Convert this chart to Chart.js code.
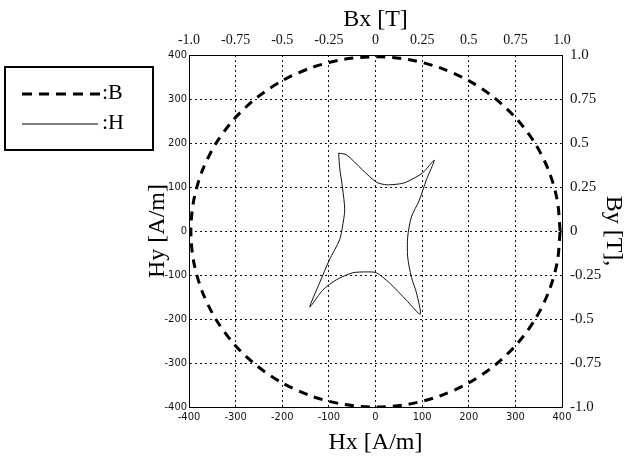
<!DOCTYPE html>
<html>
<head>
<meta charset="utf-8">
<script src="https://cdn.jsdelivr.net/npm/chart.js@4/dist/chart.umd.min.js"></script>
<style>
  html, body { margin: 0; padding: 0; background: #fff; }
  #wrap { width: 628px; height: 465px; position: relative; }
</style>
</head>
<body>
<div id="wrap"><canvas id="chart" width="628" height="465"></canvas></div>
<script>
// H locus (A/m), traced clockwise from the upper-left tip
const hx = [-79, -62, -28, 2, 24, 51, 66, 101, 126, 109, 94, 77, 69, 69, 77, 88, 96,
            66, 30, 2, -19, -49, -84, -113, -141, -120, -99, -77, -71, -66, -71, -77, -79];
const hy = [177, 173, 139, 111, 105, 107, 111, 132, 161, 116, 70, 32, -14, -59, -105, -141, -189,
            -157, -118, -95, -93, -95, -111, -134, -173, -118, -66, -20, 9, 48, 100, 145, 177];

// B locus (T), nearly a unit circle
const bx = [0.99, 0.975, 0.93, 0.857, 0.758, 0.636, 0.495, 0.339, 0.172, 0.0,
            -0.172, -0.339, -0.495, -0.636, -0.758, -0.857, -0.93, -0.975, -0.99,
            -0.975, -0.93, -0.857, -0.758, -0.636, -0.495, -0.339, -0.172, 0.0,
            0.172, 0.339, 0.495, 0.636, 0.758, 0.857, 0.93, 0.975, 0.99];
const by = [0.0, 0.172, 0.34, 0.495, 0.636, 0.758, 0.857, 0.93, 0.975, 0.99,
            0.975, 0.93, 0.857, 0.758, 0.636, 0.495, 0.34, 0.172, 0.0,
            -0.174, -0.342, -0.5, -0.643, -0.766, -0.866, -0.94, -0.985, -1.0,
            -0.985, -0.94, -0.866, -0.766, -0.643, -0.5, -0.342, -0.174, 0.0];

const hTicks = [-400, -300, -200, -100, 0, 100, 200, 300, 400];
const bTicks = [-1, -0.75, -0.5, -0.25, 0, 0.25, 0.5, 0.75, 1];
const bTickLabels = ['-1.0', '-0.75', '-0.5', '-0.25', '0', '0.25', '0.5', '0.75', '1.0'];

const serif = "'Liberation Serif', 'DejaVu Serif', serif";
const narrow = "'Liberation Sans Narrow', 'DejaVu Sans Condensed', sans-serif";

const hPoints = hx.map((v, i) => ({ x: v, y: hy[i] }));
const bPoints = bx.map((v, i) => ({ x: v, y: by[i] }));

const legendBox = {
  id: 'legendBox',
  afterDraw(chart) {
    const ctx = chart.ctx;
    ctx.save();
    ctx.strokeStyle = '#000';
    ctx.lineWidth = 2;
    ctx.strokeRect(5, 67, 148, 83);
    ctx.lineWidth = 3;
    ctx.setLineDash([10, 7]);
    ctx.beginPath();
    ctx.moveTo(22, 94);
    ctx.lineTo(100, 94);
    ctx.stroke();
    ctx.setLineDash([]);
    ctx.lineWidth = 1;
    ctx.beginPath();
    ctx.moveTo(22, 124);
    ctx.lineTo(98, 124);
    ctx.stroke();
    ctx.fillStyle = '#000';
    ctx.font = '22px ' + serif;
    ctx.textBaseline = 'middle';
    ctx.fillText(':B', 102, 93);
    ctx.fillText(':H', 102, 123);
    ctx.restore();
  }
};

const whiteBg = {
  id: 'whiteBg',
  beforeDraw(chart) {
    const ctx = chart.ctx;
    ctx.save();
    ctx.fillStyle = '#fff';
    ctx.fillRect(0, 0, chart.width, chart.height);
    ctx.restore();
  }
};

new Chart(document.getElementById('chart').getContext('2d'), {
  type: 'scatter',
  data: {
    datasets: [
      {
        label: 'B',
        data: bPoints,
        xAxisID: 'x2',
        yAxisID: 'y2',
        showLine: true,
        borderColor: '#000',
        borderWidth: 3,
        borderDash: [9, 7],
        pointRadius: 0,
        tension: 0.3,
        fill: false
      },
      {
        label: 'H',
        data: hPoints,
        xAxisID: 'x',
        yAxisID: 'y',
        showLine: true,
        borderColor: '#111',
        borderWidth: 1,
        pointRadius: 0,
        tension: 0.25,
        fill: false
      }
    ]
  },
  options: {
    responsive: false,
    animation: false,
    layout: { padding: { left: 143, right: 0, top: 0, bottom: 0 } },
    plugins: {
      legend: { display: false },
      tooltip: { enabled: false }
    },
    scales: {
      x: {
        type: 'linear', position: 'bottom', min: -400, max: 400,
        afterBuildTicks: s => { s.ticks = hTicks.map(v => ({ value: v })); },
        afterFit: s => { s.height = 58; },
        grid: { color: '#111', drawTicks: false, lineWidth: 1 },
        border: { display: true, color: '#000', width: 1, dash: [2, 3] },
        ticks: { color: '#111', font: { family: narrow, size: 11 }, padding: 4, maxRotation: 0 },
        title: { display: true, text: 'Hx [A/m]', color: '#000', font: { family: serif, size: 24 }, padding: { top: 0, bottom: 8 } }
      },
      y: {
        type: 'linear', position: 'left', min: -400, max: 400,
        afterBuildTicks: s => { s.ticks = hTicks.map(v => ({ value: v })); },
        afterFit: s => { s.width = 46; },
        grid: { color: '#111', drawTicks: false, lineWidth: 1 },
        border: { display: true, color: '#000', width: 1, dash: [2, 3] },
        ticks: { color: '#111', font: { family: narrow, size: 11 }, padding: 2 },
        title: { display: true, text: 'Hy [A/m]', color: '#000', font: { family: serif, size: 24 }, padding: 0 }
      },
      x2: {
        type: 'linear', position: 'top', min: -1, max: 1,
        afterBuildTicks: s => { s.ticks = bTicks.map(v => ({ value: v })); },
        afterFit: s => { s.height = 55; },
        grid: { display: false, drawTicks: false },
        border: { display: true, color: '#000', width: 1 },
        ticks: {
          color: '#111', font: { family: serif, size: 14 }, padding: 6, maxRotation: 0,
          callback: (v, i) => bTickLabels[i]
        },
        title: { display: true, text: 'Bx [T]', color: '#000', font: { family: serif, size: 24 }, padding: { top: 5, bottom: 0 } }
      },
      y2: {
        type: 'linear', position: 'right', min: -1, max: 1,
        afterBuildTicks: s => { s.ticks = bTicks.map(v => ({ value: v })); },
        afterFit: s => { s.width = 66; },
        grid: { display: false, drawTicks: false },
        border: { display: true, color: '#000', width: 1 },
        ticks: {
          color: '#111', font: { family: serif, size: 15 }, padding: 8,
          callback: (v, i) => bTickLabels[i]
        },
        title: { display: true, text: 'By [T],', color: '#000', font: { family: serif, size: 24 }, padding: 0 }
      }
    }
  },
  plugins: [whiteBg, legendBox]
});
</script>
</body>
</html>
